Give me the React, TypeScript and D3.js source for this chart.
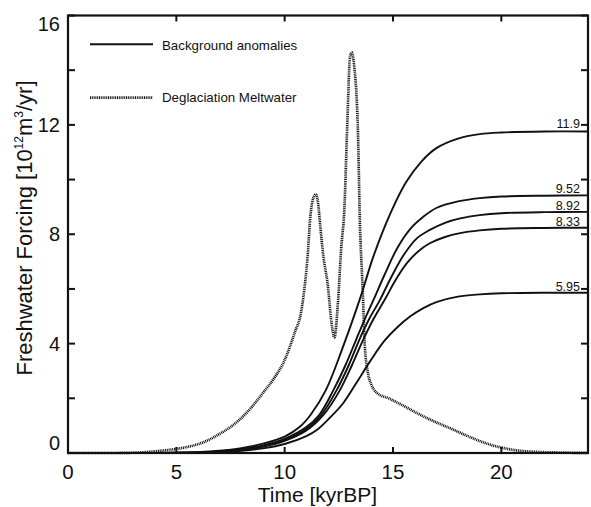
import React from "react";
import * as d3 from "d3";

// ---- data (time in kyrBP, forcing in 10^12 m^3/yr) ----
const xTicks = [0, 5, 10, 15, 20];
const yTicksMajor = [0, 4, 8, 12, 16];
const yTicksAll = [0, 2, 4, 6, 8, 10, 12, 14, 16];

const bgA: [number, number][] = [[0,0],[4,0],[5,0.01],[6,0.03],[7,0.08],[8,0.18],[9,0.34],[10,0.6],[10.7,0.96],[11.2,1.4],[11.9,2.3],[12.7,3.9],[13.5,5.7],[14.1,7.2],[14.9,8.8],[15.6,9.9],[16.3,10.65],[17,11.15],[18,11.5],[19,11.66],[20,11.72],[22,11.76],[24,11.76]];
const bgB: [number, number][] = [[0,0],[4,0],[5,0.01],[6,0.02],[7,0.06],[8,0.14],[9,0.28],[10,0.52],[11,0.95],[11.6,1.4],[12.25,2.3],[12.8,3.2],[13.3,4.15],[13.7,4.9],[14.1,5.6],[14.6,6.5],[15.2,7.5],[15.8,8.2],[16.4,8.64],[17,8.96],[18,9.2],[19,9.32],[20,9.38],[22,9.41],[24,9.42]];
const bgC: [number, number][] = [[0,0],[4,0],[6,0.02],[7,0.05],[8,0.12],[9,0.25],[10,0.48],[11,0.88],[11.7,1.4],[12.4,2.3],[12.95,3.2],[13.45,4.15],[13.9,4.9],[14.4,5.6],[14.9,6.4],[15.5,7.25],[16.1,7.85],[16.7,8.16],[17.4,8.42],[18.1,8.58],[19,8.7],[20,8.77],[22,8.81],[24,8.82]];
const bgD: [number, number][] = [[0,0],[4,0],[6,0.02],[7,0.05],[8,0.11],[9,0.23],[10,0.44],[11,0.82],[11.8,1.4],[12.55,2.3],[13.1,3.2],[13.6,4.1],[14.1,4.9],[14.65,5.65],[15.1,6.3],[15.65,6.95],[16.2,7.4],[16.7,7.67],[17.4,7.9],[18.1,8.04],[19,8.14],[20,8.2],[22,8.23],[24,8.24]];
const bgE: [number, number][] = [[0,0],[4,0],[6,0.01],[7,0.03],[8,0.08],[9,0.17],[10,0.33],[11,0.62],[11.5,0.85],[12.1,1.3],[12.7,1.82],[13.3,2.55],[13.94,3.35],[14.6,4.1],[15.2,4.6],[15.8,5.0],[16.4,5.3],[17,5.52],[18,5.72],[19,5.8],[20,5.84],[22,5.86],[24,5.86]];
const backgroundSeries = [bgA, bgB, bgC, bgD, bgE];
const endLabels = ["11.9", "9.52", "8.92", "8.33", "5.95"];
const endLabelValues = [11.9, 9.52, 8.92, 8.33, 5.95];

const meltwater: [number, number][] = [[0,0],[2,0],[3,0.01],[4,0.06],[4.5,0.1],[5,0.15],[5.5,0.22],[6,0.32],[6.5,0.48],[7,0.7],[7.5,0.95],[8,1.28],[8.5,1.7],[9,2.2],[9.5,2.72],[10,3.4],[10.46,4.4],[10.77,5.2],[10.92,6.07],[11.07,7.3],[11.17,8.5],[11.28,9.2],[11.43,9.46],[11.55,9.1],[11.62,8.5],[11.77,7.3],[12.0,6.07],[12.15,4.84],[12.3,4.23],[12.45,5.4],[12.61,7.5],[12.76,9.0],[12.88,11.8],[13.02,14.5],[13.1,14.65],[13.2,14.2],[13.38,11.8],[13.47,8.5],[13.6,6.0],[13.7,3.9],[13.85,2.9],[14.0,2.5],[14.25,2.2],[14.8,2.0],[15.5,1.72],[16.2,1.42],[17,1.12],[17.8,0.85],[18.5,0.6],[19,0.44],[19.5,0.3],[20,0.2],[20.5,0.12],[21,0.07],[21.6,0.04],[22.5,0.02],[24,0]];

const legendItems = ["Background anomalies", "Deglaciation Meltwater"];

export default function App() {
  const W = 591, H = 507;
  const left = 68, right = 588, top = 15.5, bottom = 453;
  const x = d3.scaleLinear().domain([0, 24]).range([left, right]);
  const y = d3.scaleLinear().domain([0, 16]).range([bottom, top]);
  const meltLine = d3.line<[number, number]>().x(d => x(d[0])).y(d => y(d[1])).curve(d3.curveMonotoneX);
  const bgLine = d3.line<[number, number]>().x(d => x(d[0])).y(d => y(d[1])).curve(d3.curveCatmullRom.alpha(0.5));
  const font = "'Liberation Sans', Arial, Helvetica, sans-serif";
  const ink = "#111";

  return (
    <svg width={W} height={H} viewBox={`0 0 ${W} ${H}`} style={{ position: "absolute", left: 0, top: 0, background: "#fff" }} fontFamily={font}>
      <rect x={0} y={0} width={W} height={H} fill="#fff" />
      {/* series */}
      <g fill="none">
        <path d={meltLine(meltwater) || ""} stroke={ink} strokeWidth={2.7} strokeDasharray="1 0.8" />
        {backgroundSeries.map((s, i) => (
          <path key={i} d={bgLine(s) || ""} stroke={ink} strokeWidth={1.9} />
        ))}
      </g>
      {/* end labels */}
      {endLabels.map((t, i) => (
        <text key={t} x={580} y={y(endLabelValues[i]) + 0.5} fontSize={12.5} textAnchor="end" fill={ink}>{t}</text>
      ))}
      {/* frame */}
      <rect x={left} y={top} width={right - left} height={bottom - top} fill="none" stroke={ink} strokeWidth={2.2} />
      {/* ticks */}
      {yTicksAll.map(v => (
        <g key={"y" + v} stroke={ink} strokeWidth={2}>
          <line x1={left} x2={left + 7} y1={y(v)} y2={y(v)} />
          <line x1={right} x2={right - 7} y1={y(v)} y2={y(v)} />
        </g>
      ))}
      {xTicks.map(v => (
        <g key={"x" + v} stroke={ink} strokeWidth={2}>
          <line x1={x(v)} x2={x(v)} y1={bottom} y2={bottom - 6} />
          <line x1={x(v)} x2={x(v)} y1={top} y2={top + 6} />
        </g>
      ))}
      {/* y tick labels */}
      {yTicksMajor.map(v => {
        let yy = y(v) + 7;
        if (v === 16) yy = y(v) + 15;
        if (v === 0) yy = y(v) - 3;
        return <text key={"yl" + v} x={60} y={yy} fontSize={20} textAnchor="end" fill={ink}>{v}</text>;
      })}
      {/* x tick labels */}
      {xTicks.map(v => (
        <text key={"xl" + v} x={x(v)} y={478.5} fontSize={20.5} textAnchor="middle" fill={ink}>{v}</text>
      ))}
      {/* axis titles */}
      <text x={317.5} y={501.5} fontSize={21} textAnchor="middle" fill={ink}>Time [kyrBP]</text>
      <text transform={`translate(32, 228) rotate(-90)`} fontSize={22} textAnchor="middle" fill={ink}>
        Freshwater Forcing [10<tspan fontSize={12} dy={-9}>12</tspan><tspan dy={9}>m</tspan><tspan fontSize={12} dy={-9}>3</tspan><tspan dy={9}>/yr]</tspan>
      </text>
      {/* legend */}
      <line x1={90} x2={153} y1={44.3} y2={44.3} stroke={ink} strokeWidth={1.9} />
      <text x={162} y={49.5} fontSize={13.3} fill={ink}>{legendItems[0]}</text>
      <line x1={90} x2={153} y1={97.7} y2={97.7} stroke={ink} strokeWidth={2.7} strokeDasharray="1 0.8" />
      <text x={162} y={101.5} fontSize={13.3} fill={ink}>{legendItems[1]}</text>
    </svg>
  );
}
